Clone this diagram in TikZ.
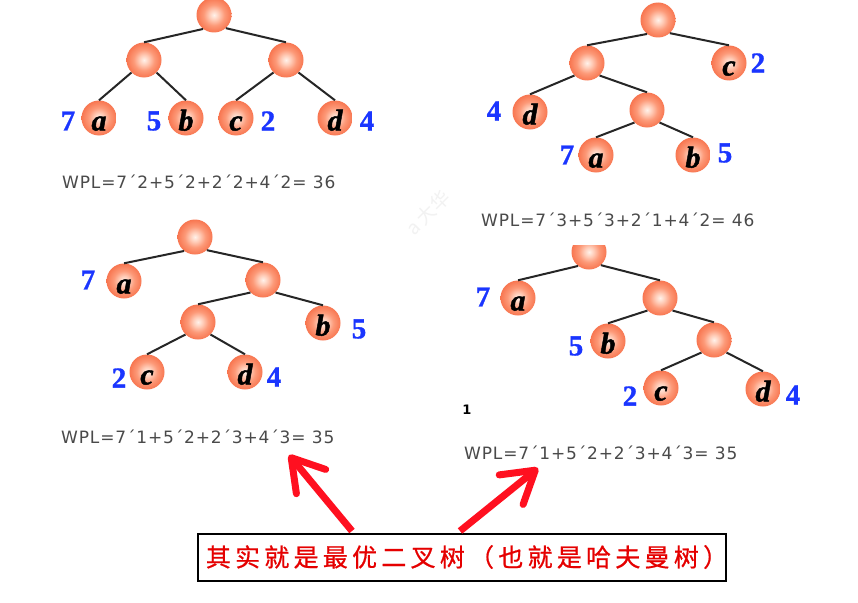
\documentclass[tikz,border=0pt]{standalone}
\usepackage{fontspec}
\setmainfont{Liberation Serif}
\newfontfamily\ballfont[BoldItalicFeatures={FakeBold=1.5}]{Liberation Serif}
\newfontfamily\numfont[BoldFeatures={FakeBold=1}]{Liberation Serif}
\newfontfamily\wplfont[LetterSpace=5]{DejaVu Sans}
\newfontfamily\strayfont{DejaVu Sans}
\newfontfamily\cjkfont[LetterSpace=17,FakeBold=0.7]{Noto Sans CJK SC}
\newfontfamily\wmfont{Noto Sans CJK SC}
\usetikzlibrary{arrows.meta}
\definecolor{wblue}{HTML}{1A35FF}
\definecolor{wplgray}{HTML}{4A4A4A}
\definecolor{arrowred}{HTML}{FF1020}
\pgfdeclareradialshading{ballshade}{\pgfpoint{0bp}{0bp}}{%
  rgb(0bp)=(1,0.95,0.92);rgb(7bp)=(1,0.8,0.72);rgb(15bp)=(0.99,0.6,0.47);rgb(26bp)=(0.97,0.45,0.3);rgb(35bp)=(0.94,0.38,0.22);rgb(50bp)=(0.94,0.38,0.22)}
\tikzset{
  x=1pt,y=-1pt,
  ball/.style={circle,minimum size=35pt,inner sep=0pt,shading=ballshade},
  leafball/.style={ball,font=\ballfont\fontsize{30}{30}\selectfont\bfseries\itshape,text=black,text height=25pt,text depth=0pt},
  wlabel/.style={font=\numfont\fontsize{29}{29}\selectfont\bfseries,text=wblue,inner sep=0pt},
  wpl/.style={font=\wplfont\fontsize{17}{18}\selectfont,text=wplgray,anchor=west,inner sep=0pt},
  edge/.style={draw=black!85,line width=2pt},
  bigarrow/.style={draw=arrowred,line width=7pt,-{Straight Barb[length=31pt,width=38pt,round]}},
}
\begin{document}
\begin{tikzpicture}
\useasboundingbox[fill=white] (0,0) rectangle (858,602);
% watermark
\node[rotate=45,text=black!5,font=\wmfont\fontsize{19}{19}\selectfont,inner sep=0pt] (mark) at (428,213) {a 大华};
% tree 1
\node[ball] (ar) at (214,15) {};
\node[ball] (al) at (144,60) {};
\node[ball] (ak) at (286,60) {};
\node[leafball] (aa) at (99,118) {a};
\node[leafball] (ab) at (186,118) {b};
\node[leafball] (ac) at (236,118) {c};
\node[leafball] (ad) at (335,118) {d};
\draw[edge] (ar.232) -- (al.north);
\draw[edge] (ar.-48) -- (ak.north);
\draw[edge] (al.225) -- (aa.north);
\draw[edge] (al.-45) -- (ab.north);
\draw[edge] (ak.225) -- (ac.north);
\draw[edge] (ak.-45) -- (ad.north);
\node[wlabel] (aw7) at (68,121) {7};
\node[wlabel] (aw5) at (154,121) {5};
\node[wlabel] (aw2) at (268,121) {2};
\node[wlabel] (aw4) at (367,121) {4};
\node[wpl] (at) at (62,182) {WPL=7´2+5´2+2´2+4´2= 36};
% tree 2
\node[ball] (br) at (658,20) {};
\node[ball] (bl) at (587,63) {};
\node[leafball] (bc) at (729,63) {c};
\node[leafball] (bd) at (530,112) {d};
\node[ball] (bm) at (647,110) {};
\node[leafball] (ba) at (596,155) {a};
\node[leafball] (bb) at (693,155) {b};
\draw[edge] (br.232) -- (bl.north);
\draw[edge] (br.-48) -- (bc.north);
\draw[edge] (bl.225) -- (bd.north);
\draw[edge] (bl.-45) -- (bm.north);
\draw[edge] (bm.225) -- (ba.north);
\draw[edge] (bm.-45) -- (bb.north);
\node[wlabel] (bw2) at (758,63) {2};
\node[wlabel] (bw4) at (494,111) {4};
\node[wlabel] (bw7) at (567,155) {7};
\node[wlabel] (bw5) at (725,153) {5};
% tree 3
\node[ball] (cr) at (195,237) {};
\node[leafball] (ca) at (124,281) {a};
\node[ball] (ck) at (263,280) {};
\node[ball] (cm) at (198,322) {};
\node[leafball] (cb) at (323,323) {b};
\node[leafball] (cc) at (147,372) {c};
\node[leafball] (cd) at (245,372) {d};
\draw[edge] (cr.232) -- (ca.north);
\draw[edge] (cr.-48) -- (ck.north);
\draw[edge] (ck.225) -- (cm.north);
\draw[edge] (ck.-45) -- (cb.north);
\draw[edge] (cm.225) -- (cc.north);
\draw[edge] (cm.-45) -- (cd.north);
\node[wlabel] (cw7) at (88,280) {7};
\node[wlabel] (cw5) at (359,329) {5};
\node[wlabel] (cw2) at (119,378) {2};
\node[wlabel] (cw4) at (274,377) {4};
\node[wpl] (ct) at (61,437) {WPL=7´1+5´2+2´3+4´3= 35};
% tree 4
\node[ball] (dr) at (589,252) {};
\fill[white] (560,228) rectangle (620,245);
\node[wpl] (bt) at (481,220) {WPL=7´3+5´3+2´1+4´2= 46};
\node[leafball] (da) at (518,298) {a};
\node[ball] (dk) at (660,298) {};
\node[leafball] (db) at (608,341) {b};
\node[ball] (dm) at (714,340) {};
\node[leafball] (dc) at (661,388) {c};
\node[leafball] (dd) at (763,389) {d};
\draw[edge] (dr.232) -- (da.north);
\draw[edge] (dr.-48) -- (dk.north);
\draw[edge] (dk.225) -- (db.north);
\draw[edge] (dk.-45) -- (dm.north);
\draw[edge] (dm.225) -- (dc.north);
\draw[edge] (dm.-45) -- (dd.north);
\node[wlabel] (dw7) at (483,297) {7};
\node[wlabel] (dw5) at (576,346) {5};
\node[wlabel] (dw2) at (630,396) {2};
\node[wlabel] (dw4) at (793,395) {4};
\node[font=\strayfont\bfseries\fontsize{13}{13}\selectfont,inner sep=0pt] (stray) at (467,410) {1};
\node[wpl] (dt) at (464,453) {WPL=7´1+5´2+2´3+4´3= 35};
% caption
\node[draw=black,line width=2pt,minimum width=528pt,minimum height=47pt,inner sep=0pt,text=red!90!black,font=\cjkfont\fontsize{25}{25}\selectfont] (cap) at (462,557) {\makebox[520pt][c]{\hspace*{10pt}其实就是最优二叉树（也就是哈夫曼树）}};
\coordinate (tailL) at (352,531);
\coordinate (tailR) at (460,531);
\coordinate (tipL) at (289,455);
\coordinate (tipR) at (538,468);
\draw[bigarrow] (tailL) -- (tipL);
\draw[bigarrow] (tailR) -- (tipR);
\end{tikzpicture}
\end{document}
